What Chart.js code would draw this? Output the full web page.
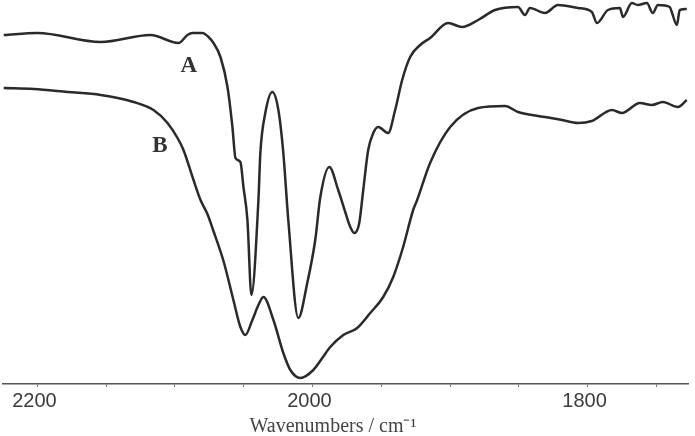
<!DOCTYPE html>
<html>
<head>
<meta charset="utf-8">
<script src="https://cdn.jsdelivr.net/npm/chart.js@4.4.1/dist/chart.umd.min.js"></script>
<style>
  html, body { margin: 0; padding: 0; background: #fff; }
  canvas { display: block; }
</style>
</head>
<body>
<canvas id="irChart" width="695" height="436"></canvas>
<script>
// curve A: wavenumber (cm-1) and transmittance (a.u.)
const wavenumbersA = [2224.5, 2200, 2154, 2117.7, 2097.4, 2090.9, 2087.3, 2080, 2075.6, 2072, 2066.9, 2061.8,
    2058.2, 2056, 2052.4, 2050.2, 2047.3, 2044.4, 2039.3, 2037.9, 2034.3, 2029.2, 2024.8, 2021.2, 2017.6,
    2010.3, 2003.8, 1998, 1994.3, 1987.8, 1981.3, 1976.2, 1972.5, 1969.6, 1966, 1963.1, 1959.5, 1955.8,
    1952.2, 1945, 1939.9, 1934.8, 1929, 1921.7, 1914.5, 1901.4, 1891.2, 1879.6, 1867.3, 1850.6, 1845.5,
    1841.9, 1831, 1821.5, 1807, 1796.9, 1793.2, 1785.2, 1776.5, 1774.3, 1767.8, 1763.5, 1756.9, 1752.6,
    1748.9, 1740.2, 1738.8, 1735.1, 1733, 1727.9];
const transA = [349, 351, 342, 349, 341, 349, 351, 351, 347, 341, 327, 297,
    257, 226, 222, 197, 164, 89, 184, 231, 271, 292, 274, 231, 164,
    66, 101, 144, 187, 217, 194, 172, 157, 151, 161, 194, 234, 251,
    257, 251, 274, 304, 327, 339, 346, 361, 357, 364, 374, 377, 369,
    376, 371, 379, 376, 372, 361, 374, 376, 367, 381, 379, 381, 371,
    379, 377, 372, 359, 374, 375];

// curve B
const wavenumbersB = [2224.5, 2202.7, 2178, 2154, 2130.1, 2115.6, 2105.4, 2098.1, 2093.8, 2086.5, 2081.4, 2076.4,
    2072, 2064.7, 2057.5, 2052.4, 2048.8, 2043.7, 2039.3, 2035.7, 2028.4, 2021.2, 2016.1, 2008.8, 1999.4,
    1992.9, 1987.1, 1977.6, 1967.5, 1958, 1948.6, 1941.3, 1934.1, 1926.8, 1923.9, 1914.5, 1899.9, 1879.6,
    1860, 1850.6, 1840.4, 1831, 1818.6, 1807, 1796.9, 1782.3, 1775.1, 1762, 1753.3, 1745.3, 1734.4, 1727.9];
const transB = [296, 295, 292, 289, 282, 274, 261, 246, 234, 204, 184, 170,
    153, 123, 84, 57, 49, 64, 79, 87, 64, 31, 14, 6, 14,
    26, 37, 49, 56, 71, 87, 107, 137, 174, 184, 221, 257, 276,
    278, 272, 269, 267, 264, 261, 263, 274, 271, 281, 279, 282, 277, 284];

// axis ticks: minor every 50, labels only on the majors
const tickValues = [2200, 2150, 2100, 2050, 2000, 1950, 1900, 1850, 1800, 1750];
const tickLabels = ["2200", "", "", "", "2000", "", "", "", "1800", ""];

const curveNames = ["A", "B"];

const toPoints = (xs, ys) => xs.map((x, i) => ({ x: x, y: ys[i] }));

// draws the "A" / "B" tags next to the curves, in data coordinates
const curveTagPlugin = {
    id: "curveTags",
    afterDatasetsDraw(chart, args, opts) {
        const { ctx, scales } = chart;
        ctx.save();
        ctx.font = "bold 23px 'Liberation Serif', 'Times New Roman', serif";
        ctx.fillStyle = "#333";
        ctx.textAlign = "center";
        ctx.textBaseline = "middle";
        opts.tags.forEach((t) => {
            ctx.fillText(t.text, scales.x.getPixelForValue(t.x), scales.y.getPixelForValue(t.y));
        });
        ctx.restore();
    },
};

const lineStyle = {
    borderColor: "#2a2a2a",
    borderWidth: 2.5,
    pointRadius: 0,
    fill: false,
    cubicInterpolationMode: "monotone",
};

new Chart(document.getElementById("irChart"), {
    type: "line",
    data: {
        datasets: [
            { label: curveNames[0], data: toPoints(wavenumbersA, transA), ...lineStyle },
            { label: curveNames[1], data: toPoints(wavenumbersB, transB), ...lineStyle },
        ],
    },
    plugins: [curveTagPlugin],
    options: {
        responsive: false,
        animation: false,
        devicePixelRatio: 1,
        layout: { padding: { left: 3, right: 7, top: 0, bottom: 0 } },
        plugins: {
            legend: { display: false },
            tooltip: { enabled: false },
            curveTags: {
                tags: [
                    { text: curveNames[0], x: 2090, y: 318 },
                    { text: curveNames[1], x: 2111, y: 238 },
                ],
            },
        },
        scales: {
            x: {
                type: "linear",
                reverse: true,
                min: 1727,
                max: 2225,
                afterBuildTicks: (scale) => {
                    scale.ticks = tickValues.map((v) => ({ value: v }));
                },
                afterFit: (scale) => { scale.height = 52; },
                border: { display: true, color: "#555", width: 1.5 },
                grid: { drawOnChartArea: false, drawTicks: true, tickLength: 3, tickColor: "#777" },
                ticks: {
                    autoSkip: false,
                    maxRotation: 0,
                    padding: 2,
                    labelOffset: -3,
                    color: "#3c3c3c",
                    font: { family: "'Liberation Sans', Arial, sans-serif", size: 20 },
                    callback: (v) => tickLabels[tickValues.indexOf(v)] ?? "",
                },
                title: {
                    display: true,
                    // trailing spaces nudge the centred title a bit to the left, as in the figure
                    text: "Wavenumbers / cm\u207B\u00B9     ",
                    color: "#444",
                    font: { family: "'Liberation Serif', 'Times New Roman', serif", size: 20 },
                    padding: { top: 0, bottom: -3 },
                },
            },
            y: {
                display: false,
                min: 0,
                max: 384,
            },
        },
    },
});
</script>
</body>
</html>
